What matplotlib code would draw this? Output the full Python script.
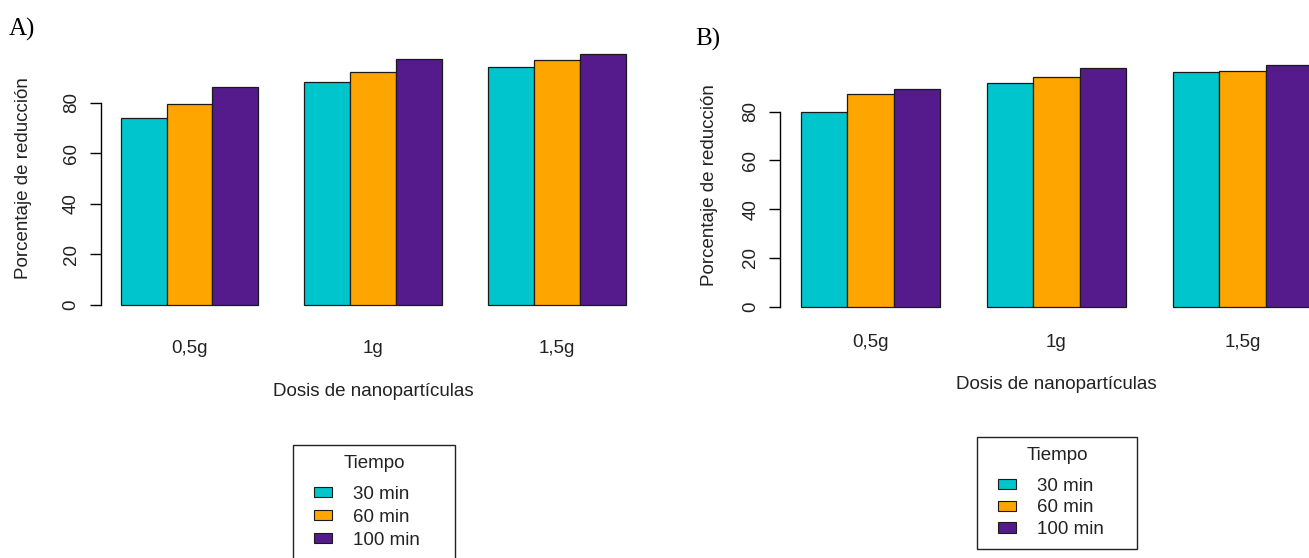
import numpy as np
import matplotlib
matplotlib.use('Agg')
import matplotlib.pyplot as plt
import matplotlib.patches as mpatches
from matplotlib.legend_handler import HandlerPatch

plt.rcParams['font.family'] = 'Liberation Sans'

dosis = ['0,5g', '1g', '1,5g']
tiempos = ['30 min', '60 min', '100 min']
colores = ['#00C5CD', '#FFA500', '#551A8B']

# porcentaje de reduccion, panel A (filas = tiempo, columnas = dosis)
red_a_30 = [73.9, 88.3, 94.3]
red_a_60 = [79.6, 92.1, 96.7]
red_a_100 = [86.3, 97.4, 99.2]

# panel B
red_b_30 = [79.7, 91.6, 96.3]
red_b_60 = [87.4, 94.1, 96.8]
red_b_100 = [89.3, 98.0, 99.1]

W, H = 1309, 558
fig = plt.figure(figsize=(W / 100, H / 100), dpi=100)


def shifted_box(legend, orig_handle, xdescent, ydescent, width, height, fontsize):
    pw, ph = 13.0, 7.5
    return mpatches.Rectangle((-xdescent + width - pw, -ydescent + (height - ph) / 2), pw, ph)


def panel(values, x0, ux, y0, uy, tick_pad, xlab_pad, ylab_pad, leg_box, spacing, tag, tag_xy):
    left, right = x0 + 0.56 * ux, x0 + 12.44 * ux
    top, bottom = y0 - 104 * uy, y0 + 4 * uy
    ax = fig.add_axes([left / W, 1 - bottom / H, (right - left) / W, (bottom - top) / H])

    for j, t in enumerate(tiempos):
        pos = 1.5 + 4 * np.arange(len(dosis)) + j
        ax.bar(pos, values[j], width=1, color=colores[j], edgecolor='#1a1a1a', linewidth=0.9)

    ax.set_xlim(0.56, 12.44)
    ax.set_ylim(-4, 104)
    for s in ['top', 'right', 'bottom']:
        ax.spines[s].set_visible(False)
    ax.spines['left'].set_bounds(0, 80)
    ax.spines['left'].set_linewidth(1)

    ax.set_yticks([0, 20, 40, 60, 80])
    ax.set_yticklabels(['0', '20', '40', '60', '80'], rotation=90, va='center', fontsize=13.5, color='#222')
    ax.tick_params(axis='y', length=8, width=1, pad=7)

    ax.set_xticks(2.5 + 4 * np.arange(len(dosis)))
    ax.set_xticklabels(dosis, fontsize=13.5, color='#222')
    ax.tick_params(axis='x', length=0, pad=tick_pad)

    ax.set_xlabel('Dosis de nanopartículas', fontsize=13.5, color='#222', labelpad=xlab_pad)
    ax.set_ylabel('Porcentaje de reducción', fontsize=13.5, color='#222', labelpad=ylab_pad)

    handles = [mpatches.Patch(facecolor=c, edgecolor='#1a1a1a', linewidth=0.8) for c in colores]
    bx, by, bw = leg_box
    leg = fig.legend(handles, tiempos, loc='upper left',
                     bbox_to_anchor=(bx / W, 1 - by / H, bw / W, 0), mode='expand',
                     borderaxespad=0, title='Tiempo', fontsize=13.5, title_fontsize=13.5,
                     fancybox=False, framealpha=1, edgecolor='#222',
                     handlelength=1.54, handleheight=0.7, handletextpad=1.1,
                     labelspacing=spacing, borderpad=0.56,
                     handler_map={mpatches.Patch: HandlerPatch(patch_func=shifted_box)})
    leg.get_frame().set_linewidth(1)
    leg._legend_box.sep = 9.5  # gap between title and entries, in points
    for txt in leg.get_texts():
        txt.set_color('#222')
    leg.get_title().set_color('#222')

    fig.text(tag_xy[0] / W, 1 - tag_xy[1] / H, tag, fontsize=18,
             family='Liberation Serif', ha='left', va='center')
    return ax


panel([red_a_30, red_a_60, red_a_100], 74.8, 45.9, 305.0, 2.529, 18, 18.5, 22,
      (293, 445, 162), 0.31, 'A)', (9, 29))
panel([red_b_30, red_b_60, red_b_100], 754.2, 46.5, 306.5, 2.435, 13, 17.5, 17.5,
      (977, 437, 160), 0.24, 'B)', (695, 39))

fig.savefig('out.png', dpi=100)
